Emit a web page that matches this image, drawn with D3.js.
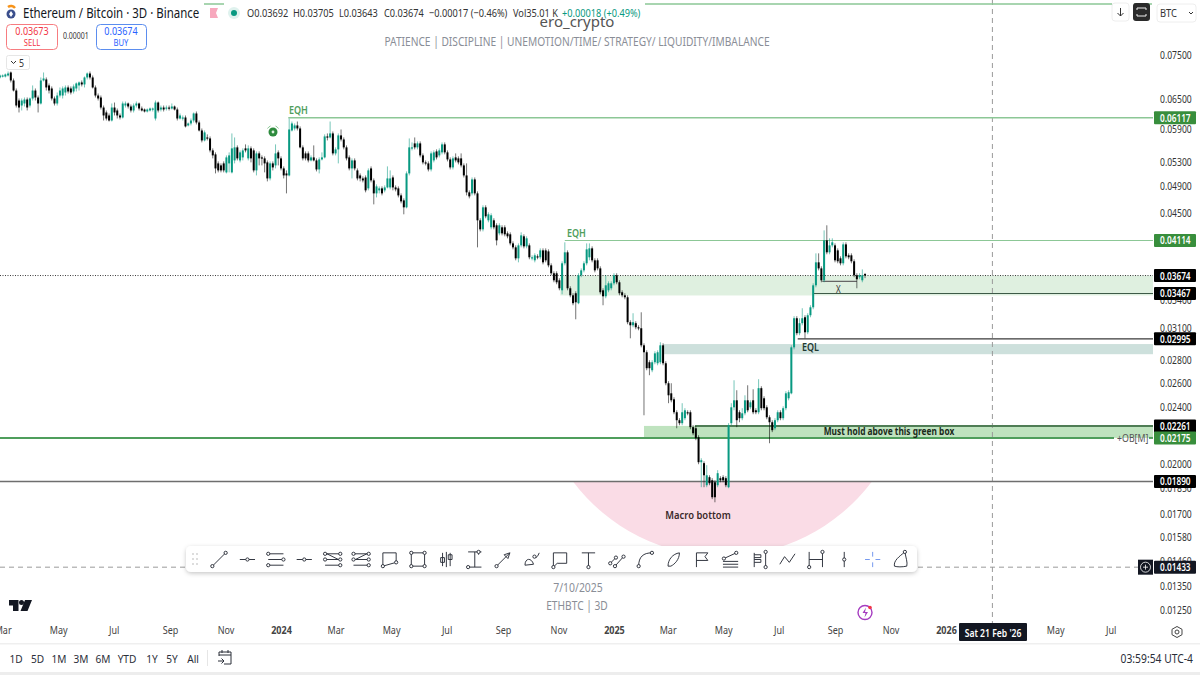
<!DOCTYPE html>
<html><head><meta charset="utf-8">
<style>html,body{margin:0;padding:0;background:#fff;overflow:hidden}svg{display:block}text{font-family:"Noto Sans",Roboto,sans-serif}</style>
<script src="https://cdn.jsdelivr.net/npm/d3@7"></script></head><body>
<script>
// ETHBTC 3D candles, in units of 0.00001 BTC
const opens=[6964,6986,6986,7009,7077,6897,6677,6465,6361,6403,
6486,6361,6507,6677,6528,6403,6897,6919,6787,6721,
6507,6403,6570,6570,6634,6743,6721,6656,6721,6787,
6853,6809,6964,7054,6964,6743,6570,6528,6320,6220,
6160,6061,6320,6260,6160,6120,6361,6403,6341,6260,
6361,6403,6300,6280,6240,6260,6280,6100,6423,6280,
6320,6300,6320,6300,6341,6280,6100,6100,6120,5965,
6003,6061,6200,6022,5869,5683,5738,5720,5503,5433,
5277,5243,5277,5126,5277,5126,5328,5557,5328,5380,
5539,5363,5539,5503,5159,5450,5380,5363,5294,5027,
5277,5243,5468,5363,5192,5109,5076,5869,5907,5965,
5907,5557,5450,5450,5328,5380,5328,5175,5345,5380,
5757,5738,5813,5450,5521,5776,5701,5557,5380,5192,
5328,5159,5076,5027,5043,4868,5192,4995,4790,4837,
4868,4837,4883,4883,5043,4883,4868,4759,4683,4579,
5109,5539,5629,5557,5629,5415,5294,5277,5175,5328,
5485,5415,5468,5611,5468,5345,5209,5380,5363,5363,
5243,5076,4806,4790,5011,4790,4391,4265,4579,4391,
4293,4391,4321,4210,4293,4293,4210,4197,4076,4024,
3884,4050,4170,4037,4050,3884,3859,3909,3897,3985,
3985,3972,3797,3701,3701,3618,3503,3822,3960,3526,
3447,3470,3360,3677,3736,3822,3897,4011,3859,3859,
3760,3503,3436,3503,3526,3583,3677,3595,3481,3447,
3425,3160,3129,3150,3109,3099,2933,2868,2777,2706,
2777,2768,2777,2933,2768,2595,2512,2464,2363,2303,
2281,2318,2363,2363,2252,2244,2180,2011,2005,1867,
1916,1897,1885,1867,1910,1916,1910,1855,2281,2401,
2456,2363,2318,2355,2456,2401,2456,2378,2363,2554,
2472,2401,2325,2288,2244,2303,2363,2318,2394,2472,
2512,2914,3201,3050,3150,3211,3059,3232,3316,3560,
3834,3760,3618,4116,3960,4050,4050,3985,3884,3822,
4063,3922,3922,3847,3677,3654,3618,3692];
const closes=[7009,7009,7032,7054,6897,6677,6361,6320,6465,6486,
6320,6507,6677,6528,6403,6897,6941,6743,6677,6507,
6403,6570,6677,6721,6743,6656,6634,6765,6831,6853,
6809,6964,7054,6964,6743,6570,6507,6320,6160,6100,
6061,6320,6220,6160,6120,6403,6403,6341,6260,6361,
6403,6300,6260,6240,6280,6300,6300,6423,6260,6320,
6280,6320,6300,6341,6280,6100,6160,6120,5946,6003,
6061,6200,6022,5869,5683,5832,5720,5503,5415,5192,
5159,5159,5159,5380,5415,5539,5557,5363,5468,5503,
5503,5539,5363,5159,5450,5363,5363,5277,5027,5277,
5209,5450,5363,5192,5076,5076,5888,6003,5965,5907,
5557,5363,5363,5328,5380,5328,5175,5345,5380,5757,
5738,5813,5450,5521,5776,5701,5557,5363,5192,5328,
5192,5027,5027,4995,4837,5159,4995,4790,4899,4868,
4790,4883,5027,5027,4883,4852,4759,4668,4579,5109,
5557,5557,5557,5629,5415,5294,5277,5175,5450,5468,
5380,5503,5611,5468,5345,5209,5363,5328,5294,5243,
5076,4806,4744,5011,4790,4391,4265,4579,4448,4477,
4463,4293,4116,4321,4210,4197,4170,4076,4024,3884,
4050,4183,4037,4143,3897,3897,3922,3897,3985,3834,
3859,3797,3701,3618,3595,3526,3822,3960,3526,3447,
3360,3370,3677,3736,3822,3998,4011,3859,3736,3760,
3481,3436,3560,3583,3583,3677,3595,3470,3447,3425,
3160,3129,3160,3109,3099,2933,2868,2724,2724,2777,
2858,2868,2933,2768,2595,2496,2456,2363,2303,2281,
2363,2378,2355,2252,2208,2173,2011,2024,1928,1928,
1879,1796,1796,1941,1897,1897,1867,2266,2401,2456,
2303,2318,2355,2456,2378,2440,2363,2363,2554,2394,
2394,2325,2288,2230,2303,2363,2318,2394,2512,2521,
2914,3201,3050,3150,3201,3059,3232,3316,3560,3834,
3760,3618,4116,3960,4050,4090,3859,3847,3822,4063,
3909,3897,3847,3677,3630,3677,3677,3674];
const highs=[7032,7032,7054,7100,7100,6941,6721,6507,6507,6528,
6528,6528,6787,6721,6570,6964,7077,6964,6831,6765,
6549,6634,6743,6765,6787,6787,6765,6809,6853,6875,
6897,6986,7077,7100,7009,6787,6613,6570,6361,6260,
6200,6403,6423,6300,6200,6444,6444,6423,6382,6403,
6444,6423,6341,6300,6300,6320,6320,6465,6444,6361,
6361,6361,6361,6403,6361,6320,6200,6160,6160,6022,
6100,6220,6240,6061,5907,5869,5795,5757,5539,5468,
5311,5277,5311,5415,5468,5813,5738,5593,5503,5539,
5611,5593,5575,5539,5485,5485,5415,5398,5328,5311,
5311,5611,5503,5398,5226,5159,6100,6041,6003,6041,
5946,5593,5485,5485,5415,5593,5363,5380,5468,5795,
5813,6041,5850,5557,5813,5888,5738,5593,5415,5363,
5363,5192,5109,5060,5076,5192,5226,5027,4931,4899,
4899,4915,5226,5159,5076,4915,4899,4790,4713,5142,
5720,5647,5738,5665,5665,5450,5328,5311,5485,5503,
5521,5539,5647,5647,5503,5380,5398,5450,5398,5450,
5277,5277,4837,5043,5043,4821,4420,4609,4609,4506,
4492,4420,4349,4349,4321,4321,4237,4224,4103,4050,
4076,4224,4197,4170,4076,3922,3947,3935,4011,4011,
4011,3998,3822,3724,3724,3642,3847,4090,3985,3549,
3470,3492,3701,3760,3847,4076,4076,4037,3884,3884,
3785,3526,3677,3606,3606,3701,3701,3618,3503,3470,
3447,3180,3253,3170,3129,3263,2952,2886,2795,2795,
2877,2886,2962,2952,2786,2612,2595,2480,2378,2318,
2433,2394,2378,2378,2266,2259,2194,2037,2017,1992,
1928,1910,1897,1960,1922,1928,1922,2281,2433,2620,
2537,2378,2394,2496,2578,2456,2545,2394,2629,2570,
2488,2417,2340,2303,2318,2378,2378,2409,2529,2537,
2933,3222,3222,3201,3306,3232,3253,3338,3583,3947,
3947,3785,4251,4321,4143,4143,4076,4011,3909,4090,
4090,3947,3947,3872,3701,3701,3748,3705];
const lows=[6941,6964,6964,6986,6853,6656,6320,6220,6260,6341,
6260,6320,6465,6465,6220,6382,6875,6677,6613,6465,
6361,6361,6528,6507,6570,6613,6592,6613,6656,6677,
6765,6743,6919,6919,6721,6528,6465,6280,6061,6061,
6041,6041,6160,6100,6081,6100,6320,6300,6220,6220,
6320,6260,6240,6220,6220,6240,6240,6061,6220,6240,
6240,6260,6260,6280,6260,6061,6081,6061,5926,5946,
5965,6022,5984,5850,5647,5665,5683,5468,5363,5109,
5126,5126,5126,5109,5126,5109,5277,5328,5294,5328,
5468,5328,5294,5126,5076,5243,5243,5126,4979,4995,
5159,5192,5243,5159,5027,4790,5060,5850,5869,5869,
5539,5328,5328,5294,5311,5311,5142,5109,5328,5363,
5683,5720,5415,5415,5277,5665,5521,5328,5159,5027,
5159,4995,4979,4963,4806,4837,4963,4623,4728,4790,
4759,4806,4868,4852,4837,4821,4728,4638,4477,4564,
5076,5503,5521,5521,5380,5260,5243,5142,5142,5294,
5345,5380,5433,5433,5311,5175,5175,5294,5260,5209,
5043,4759,4713,4759,4759,4024,4237,4237,4420,4363,
4265,4265,4050,4183,4183,4170,4143,4050,3998,3859,
3834,4024,4011,4011,3872,3859,3834,3872,3872,3809,
3834,3773,3677,3595,3572,3503,3458,3797,3503,3425,
3338,3190,3349,3654,3712,3797,3859,3834,3712,3736,
3458,3338,3414,3481,3503,3560,3572,3447,3425,3403,
3139,3000,3109,3089,3079,2914,2340,2706,2663,2689,
2759,2750,2759,2750,2578,2433,2440,2348,2244,2266,
2266,2303,2340,2237,2194,2159,1998,1855,1855,1855,
1867,1785,1767,1855,1885,1885,1855,1849,2266,2378,
2252,2288,2303,2340,2363,2386,2348,2348,2348,2378,
2378,2310,2138,2216,2230,2288,2303,2303,2378,2456,
2504,2895,3030,3030,3129,3000,3040,3211,3295,3537,
3736,3595,3595,3935,3935,4024,3834,3822,3797,3797,
3884,3872,3822,3654,3526,3630,3595,3643];
const lastCandle="2025-10-04", candleDays=3;

const priceTicks=[0.075,0.065,0.059,0.053,0.049,0.045,0.034,0.031,0.028,0.026,0.024,0.02,0.0185,0.017,0.0158,0.0146,0.0135,0.0125];
const timeTickDates=["2023-03-01","2023-05-01","2023-07-01","2023-09-01","2023-11-01","2024-01-01","2024-03-01","2024-05-01","2024-07-01","2024-09-01","2024-11-01","2025-01-01","2025-03-01","2025-05-01","2025-07-01","2025-09-01","2025-11-01","2026-01-01","2026-03-01","2026-05-01","2026-07-01"];
const timeTickLabels=["Mar","May","Jul","Sep","Nov","2024","Mar","May","Jul","Sep","Nov","2025","Mar","May","Jul","Sep","Nov","2026","Mar","May","Jul"];

// price levels drawn on the chart: value, start date, colour, width
const levelPrices=[0.06117,0.04114,0.03467,0.02995,0.02261,0.02175,0.0189];
const levelStarts=["2024-01-09","2024-11-08","2025-08-08","2025-07-22","2025-03-31","2023-02-20","2023-02-20"];
const levelColors=["#8cc796","#8cc796","#3d5a48","#3a3a3a","#4f7d55","#4f9e5c","#6e6e6e"];
const levelWidths=[1.5,1.2,1.2,1.2,2,2,1.5];
const tagPrices=[0.06117,0.04114,0.03674,0.03467,0.02995,0.02261,0.02175,0.0189,0.01433];
const tagColors=["#388e3c","#388e3c","#000","#000","#000","#000","#388e3c","#000","#131722"];
const bands=[[0.03674,0.03445,"2024-11-03","#dff0e0"],[0.02945,0.0285,"2025-02-24","#cde0dc"],[0.02261,0.02175,"2025-02-03","#bfe3bf"]];

const W=1200,H=675,fmt=d3.format(".5f");
const parse=d3.utcParse("%Y-%m-%d");
const x=d3.scaleUtc().domain([parse("2024-01-01"),parse("2026-01-01")]).range([281,946]);
const y=d3.scaleLog().domain([0.075,0.0125]).range([54.5,609.5]);
const PR=1153;
const svg=d3.select("body").append("svg").attr("width",W).attr("height",H).attr("viewBox",`0 0 ${W} ${H}`);
svg.append("rect").attr("width",W).attr("height",H).attr("fill","#fff");
// text helper: k squeezes glyphs horizontally, as in the reference's condensed look
const T=(g,xx,yy,s,o={})=>g.append("text").attr("transform",`translate(${xx},${yy}) scale(${o.k||.8},1)`).text(s)
  .attr("font-size",o.size||11).attr("fill",o.fill||"#131722").attr("text-anchor",o.anchor||"start")
  .attr("font-weight",o.weight||400).attr("dominant-baseline","central");

const candles=closes.map((c,i)=>({d:d3.utcDay.offset(parse(lastCandle),-candleDays*(closes.length-1-i)),o:opens[i]/1e5,h:highs[i]/1e5,l:lows[i]/1e5,c:c/1e5}));

// bands
svg.append("g").selectAll("rect").data(bands).join("rect")
  .attr("x",d=>x(parse(d[2]))).attr("y",d=>y(d[0])).attr("width",d=>PR-x(parse(d[2]))).attr("height",d=>y(d[1])-y(d[0])).attr("fill",d=>d[3]);

// macro-bottom arc
const ax0=x(parse("2025-01-01"))-41,ax1=ax0+299,ay=y(0.0189);
svg.append("path").attr("d",`M${ax0},${ay}A187,187 0 0 0 ${ax1},${ay}Z`).attr("fill","#fadce6");

// crosshair and last price
const crossDate=parse("2026-02-21"),crossPrice=0.01433;
svg.append("line").attr("x1",x(crossDate)).attr("x2",x(crossDate)).attr("y1",0).attr("y2",624).attr("stroke","#9a9a9a").attr("stroke-dasharray","5,4");
svg.append("line").attr("x1",0).attr("x2",1138).attr("y1",y(crossPrice)).attr("y2",y(crossPrice)).attr("stroke","#9a9a9a").attr("stroke-dasharray","5,4");
svg.append("line").attr("x1",0).attr("x2",PR).attr("y1",y(0.03674)).attr("y2",y(0.03674)).attr("stroke","#222").attr("stroke-dasharray","1,1.5").attr("stroke-width",.9);

// levels
svg.append("g").selectAll("line").data(levelPrices).join("line")
  .attr("x1",(d,i)=>Math.max(0,x(parse(levelStarts[i])))).attr("x2",(d,i)=>d===0.02175?1114:PR)
  .attr("y1",d=>y(d)).attr("y2",d=>y(d))
  .attr("stroke",(d,i)=>levelColors[i]).attr("stroke-width",(d,i)=>levelWidths[i]);
svg.append("line").attr("x1",x(parse("2025-08-18"))).attr("x2",x(parse("2025-09-25"))).attr("y1",y(0.03606)).attr("y2",y(0.03606)).attr("stroke","#666").attr("stroke-width",1.2);
svg.append("line").attr("x1",1149).attr("x2",PR).attr("y1",y(0.02175)).attr("y2",y(0.02175)).attr("stroke","#4f9e5c").attr("stroke-width",2);

// candles
const up="#089981",down="#000";
const cg=svg.append("g");
cg.selectAll("line").data(candles).join("line")
  .attr("x1",d=>x(d.d)).attr("x2",d=>x(d.d)).attr("y1",d=>y(d.h)).attr("y2",d=>y(d.l))
  .attr("stroke",d=>d.c>=d.o?up:down).attr("stroke-width",1).attr("opacity",.55);
cg.selectAll("rect").data(candles).join("rect")
  .attr("x",d=>x(d.d)-1).attr("width",2)
  .attr("y",d=>y(Math.max(d.o,d.c))).attr("height",d=>Math.max(1.2,Math.abs(y(d.o)-y(d.c))))
  .attr("fill",d=>d.c>=d.o?up:down);

// chart annotations
const ann=svg.append("g");
T(ann,289,110,"EQH",{size:11,fill:"#4f9e5c",weight:600,k:.82});
T(ann,567,233,"EQH",{size:11,fill:"#4f9e5c",weight:600,k:.82});
T(ann,802,347,"EQL",{size:11,fill:"#1f3a33",weight:600,k:.82});
T(ann,836,289,"X",{size:10,fill:"#333"});
T(ann,889,431,"Must hold above this green box",{size:11,fill:"#1a2a1a",weight:700,anchor:"middle",k:.76});
T(ann,698,515,"Macro bottom",{size:11.5,fill:"#3a2a2a",weight:600,anchor:"middle",k:.82});
T(ann,1117,438,"+OB[M]",{size:11,fill:"#555",k:.8});
ann.append("circle").attr("cx",273).attr("cy",132).attr("r",4.5).attr("fill","#2e8b3e");
ann.append("circle").attr("cx",273).attr("cy",132).attr("r",1.4).attr("fill","#dff0e0");
ann.append("path").attr("d","M267.5,128.5a7,7 0 0 1 3,-2.5M278.5,128.5a7,7 0 0 0 -3,-2.5").attr("stroke","#8cc796").attr("fill","none");

// price axis
const yAxis=d3.axisRight(y).tickValues(priceTicks).tickSize(0).tickPadding(0).tickFormat(fmt);
const yg=svg.append("g").attr("transform","translate(1160,0)").call(yAxis);
yg.select(".domain").remove();
yg.selectAll("text").attr("font-size",11).attr("fill","#333").attr("transform","scale(.78,1)");

// price tags
const tg=svg.append("g").selectAll("g").data(tagPrices).join("g").attr("transform",d=>`translate(1154,${y(d)})`);
tg.append("rect").attr("y",-6.5).attr("width",42).attr("height",13).attr("rx",1).attr("fill",(d,i)=>tagColors[i]);
tg.append("text").attr("transform","translate(6,0) scale(.75,1)").attr("font-size",11).attr("fill","#fff").attr("font-weight",600).attr("dominant-baseline","central").text(fmt);
const py=y(crossPrice);
svg.append("rect").attr("x",1138).attr("y",py-7.5).attr("width",15).attr("height",15).attr("fill","#131722");
svg.append("circle").attr("cx",1145.5).attr("cy",py).attr("r",5).attr("fill","none").attr("stroke","#fff").attr("stroke-width",.8);
svg.append("path").attr("d",`M1143,${py}h5M1145.5,${py-2.5}v5`).attr("stroke","#fff").attr("stroke-width",.8);

// time axis
const tAxis=d3.axisBottom(x).tickValues(timeTickDates.map(parse)).tickSize(0).tickPadding(0).tickFormat((d,i)=>timeTickLabels[i]);
const tx=svg.append("g").attr("transform","translate(0,626)").call(tAxis);
tx.select(".domain").remove();
tx.selectAll("text").attr("font-size",11).attr("fill","#444").attr("transform","scale(.82,1)")
  .attr("font-weight",(d,i)=>/^20/.test(timeTickLabels[i])?700:400);
svg.append("rect").attr("x",959).attr("y",623).attr("width",68).attr("height",18).attr("rx",1).attr("fill","#131722");
T(svg,993,632.5,"Sat 21 Feb '26",{size:11,fill:"#fff",anchor:"middle",weight:600,k:.78});
svg.append("circle").attr("cx",1177).attr("cy",632).attr("r",2).attr("fill","none").attr("stroke","#444");
svg.append("path").attr("d","M1177,626.5l5,2.8v5.4l-5,2.8l-5,-2.8v-5.4Z").attr("fill","none").attr("stroke","#444");
svg.append("rect").attr("y",643).attr("width",W).attr("height",1.5).attr("fill","#efefef");

// header
const hd=svg.append("g");
hd.append("path").attr("d","M204,4H224M645,4H1112M1134,4H1152").attr("stroke","#8cc796").attr("stroke-width",1.3);
hd.append("path").attr("d","M8,7a5,5 0 0 1 7,1").attr("stroke","#f7931a").attr("stroke-width",2.4).attr("fill","none");
hd.append("circle").attr("cx",11).attr("cy",14).attr("r",4.5).attr("fill","#3b4f8c");
hd.append("path").attr("d","M11,11l2,3l-2,3l-2,-3Z").attr("fill","#fff");
T(hd,23,13,"Ethereum / Bitcoin · 3D · Binance",{size:14,fill:"#131722",k:.82});
hd.append("path").attr("d","M210,8h8l-2,5l2,5h-8Z").attr("fill","#f7a8bd");
hd.append("circle").attr("cx",234).attr("cy",13).attr("r",6).attr("fill","#dff2ee");
hd.append("circle").attr("cx",234).attr("cy",13).attr("r",3).attr("fill","#089981");
const ohlc=[["O",0.03692],["H",0.03705],["L",0.03643],["C",0.03674]];
const ox=[247,293,339,384];
ohlc.forEach((d,i)=>T(hd,ox[i],13,d[0]+fmt(d[1]),{size:11.5,fill:"#333",k:.8}));
T(hd,429,13,"−0.00017 (−0.46%)",{size:11.5,fill:"#333",k:.8});
T(hd,513,13,"Vol35.01 K",{size:11.5,fill:"#333",k:.8});
T(hd,562,13,"+0.00018 (+0.49%)",{size:11.5,fill:"#089981",k:.8});
T(hd,577,21,"ero_crypto",{size:15,fill:"#555",anchor:"middle",k:1});
T(hd,577,41,"PATIENCE   |   DISCIPLINE   |   UNEMOTION/TIME/ STRATEGY/ LIQUIDITY/IMBALANCE",{size:12,fill:"#8a8e97",anchor:"middle",k:.85});
hd.append("rect").attr("x",6.5).attr("y",24.5).attr("width",51).attr("height",25).attr("rx",4).attr("fill","#fff").attr("stroke","#f77c80");
T(hd,32,31,"0.03673",{size:11,fill:"#f23645",anchor:"middle",k:.82});
T(hd,32,42.5,"SELL",{size:9,fill:"#f23645",anchor:"middle",k:.85});
T(hd,63,36,"0.00001",{size:8.5,fill:"#333",k:.82});
hd.append("rect").attr("x",96.5).attr("y",24.5).attr("width",50).attr("height",25).attr("rx",4).attr("fill","#fff").attr("stroke","#5b8def");
T(hd,121,31,"0.03674",{size:11,fill:"#2962ff",anchor:"middle",k:.82});
T(hd,121,42.5,"BUY",{size:9,fill:"#2962ff",anchor:"middle",k:.85});
hd.append("rect").attr("x",6.5).attr("y",55.5).attr("width",23).attr("height",14).attr("rx",2).attr("fill","#fff").attr("stroke","#e6e6e6");
hd.append("path").attr("d","M11,61l2.5,2.5l2.5,-2.5").attr("stroke","#333").attr("fill","none");
T(hd,19,62.5,"5",{size:11,fill:"#333"});

// top right buttons
hd.append("rect").attr("x",1112).attr("y",3).attr("width",17).attr("height",18).attr("rx",3).attr("fill","#fff").attr("stroke","#eee");
hd.append("path").attr("d","M1120.5,8v8M1117.5,13l3,3l3,-3").attr("stroke","#333").attr("fill","none");
hd.append("rect").attr("x",1133).attr("y",3).attr("width",17).attr("height",18).attr("rx",3).attr("fill","#2a2a2a");
hd.append("path").attr("d","M1137,10v-2h9v2M1137,14v2h9v-2").attr("stroke","#eee").attr("fill","none");
hd.append("rect").attr("x",1157).attr("y",4).attr("width",39).attr("height",18).attr("rx",3).attr("fill","#fff").attr("stroke","#eee");
T(hd,1160,13,"BTC",{size:11,fill:"#333",k:.85});
hd.append("path").attr("d","M1189,12l2,2l2,-2").attr("stroke","#333").attr("fill","none");

// drawing toolbar
const defs=svg.append("defs");
const f=defs.append("filter").attr("id","sh").attr("x","-5%").attr("y","-30%").attr("width","110%").attr("height","170%");
f.append("feDropShadow").attr("dx",0).attr("dy",1.5).attr("stdDeviation",2).attr("flood-opacity",.22);
svg.append("rect").attr("x",186).attr("y",546).attr("width",731).attr("height",26).attr("rx",5).attr("fill","#fff").attr("filter","url(#sh)");
const icons=[
"M-7,7L7,-7","M-8,0H8","M-8,-6H8M-8,0H8M-8,6H8","M-8,0H8","M-8,-6H8M-8,0H8M-8,6H8M-6,-6L6,0","M-8,-6H8M-8,0H8M-8,6H8M6,-6L-6,0",
"M-7,7V-7H7V3L-7,7","M-7,-7H7V7H-7Z","M-4,-7V7M0,-8V8M4,-7V7M-6,-2h4v5h-4ZM2,-5h4v5h-4Z","M-7,-8H7M0,-8V8M-7,8H7M4,-8V-5","M-7,7L7,-7M7,-7l-6,2l4,4Z","M-7,6C-7,-2 0,-2 2,5L-7,6M3,-3C4,-1 6,-2 8,-7",
"M-7,-7H7V4H-3L-7,8Z","M-7,-7H7M0,-7V8","M-7,4L-1,-2M-2,7L7,-3","M-7,7C-7,-3 -2,-7 7,-7","M-6,7C-6,0 -1,-6 6,-7C6,0 1,5 -3,7Z","M-6,8V-7H6L3,-3L6,1H-6",
"M-7,-1L6,-7M-8,2H8M-8,5H8M-8,8H8","M-5,8V-7M-5,-5H2V-2H-5M-5,0H2V3H-5M7,-8V8","M-8,5L-3,-3L2,3L8,-6","M-7,-8V8M-7,0H7M7,-8V8","M0,-8V8","M-8,0H-3M3,0H8M0,-8V-3M0,3V8",
"M-7,7C-8,1 -2,-3 4,-8C5,-2 7,3 6,7C1,8 -4,8 -7,7Z"];
// small anchor handles of the tool icons, as icon-local points per icon
const handles=[[[-7,7],[7,-7]],[[0,0]],[[-8,-6],[8,0],[-8,6]],[[0,0]],[[-8,-6],[8,-6],[-8,0],[8,0],[8,6]],[[-8,-6],[8,-6],[-8,0],[8,0],[8,6]],
[[-7,7],[7,3]],[[-7,-7],[7,-7],[-7,7],[7,7]],[],[[-7,8],[4,-8]],[[-7,7]],[[3,-3]],
[[-7,8]],[[0,8]],[[-7,4],[-1,-2],[-2,7],[7,-3]],[[-7,7],[7,-7]],[],[],
[[-7,-1],[6,-7]],[[7,-8],[7,8]],[],[[-7,8],[7,-8]],[[0,0]],[],[[4,-8]]];
const ig=svg.append("g").attr("fill","none").attr("stroke","#2a2e39").attr("stroke-width",1);
const ic=ig.selectAll("g").data(icons).join("g").attr("transform",(d,i)=>`translate(${219+i*28.42},559.5) scale(.95)`);
ic.append("path").attr("d",d=>d).attr("stroke",(d,i)=>i===23?"#6f95ee":"#2a2e39");
ic.selectAll("circle").data((d,i)=>handles[i]).join("circle").attr("cx",d=>d[0]).attr("cy",d=>d[1]).attr("r",1.7).attr("fill","#fff");
ig.append("path").attr("d","M193,554v.1M197,554v.1M193,559v.1M197,559v.1M193,564v.1M197,564v.1").attr("stroke","#aaa").attr("stroke-linecap","round").attr("stroke-width",1.5);

// lower centre
T(svg,578,587,"7/10/2025",{size:12,fill:"#8a8e97",anchor:"middle",k:.87});
T(svg,577,605,"ETHBTC | 3D",{size:12,fill:"#8a8e97",anchor:"middle",k:.85});
svg.append("path").attr("d","M9,600H18.5V611H13V605.5H9ZM25,600H32L27.5,611H20.5Z").attr("fill","#131722");
svg.append("circle").attr("cx",21.5).attr("cy",602.5).attr("r",2.5).attr("fill","#131722");
svg.append("circle").attr("cx",865).attr("cy",612.5).attr("r",7).attr("fill","none").attr("stroke","#a53bc0").attr("stroke-width",1.4);
svg.append("path").attr("d","M866,607.5l-3.5,5.5h3l-1,4.5l3.5,-5.5h-3Z").attr("fill","#a53bc0");
svg.append("circle").attr("cx",870).attr("cy",607.5).attr("r",1.8).attr("fill","#f23645");

// bottom bar
const rangeLabels=["1D","5D","1M","3M","6M","YTD","1Y","5Y","All"];
const rangeX=[16,37.5,59,81,103,127,152,172,193];
rangeLabels.forEach((s,i)=>T(svg,rangeX[i],658,s,{size:11.5,fill:"#2a2e39",anchor:"middle",k:.88}));
svg.append("line").attr("x1",207.5).attr("x2",207.5).attr("y1",650).attr("y2",666).attr("stroke","#e6e6e6");
svg.append("path").attr("d","M219,656V652H231V664H224M219,655H231M222,650v3M228,650v3M218,661H224M221.5,658.5L224,661L221.5,663.5").attr("fill","none").attr("stroke","#2a2e39");
T(svg,1193,658,"03:59:54 UTC-4",{size:12,fill:"#2a2e39",anchor:"end",k:.86});
svg.append("rect").attr("y",672).attr("width",W).attr("height",3).attr("fill","#ededed");
</script></body></html>
